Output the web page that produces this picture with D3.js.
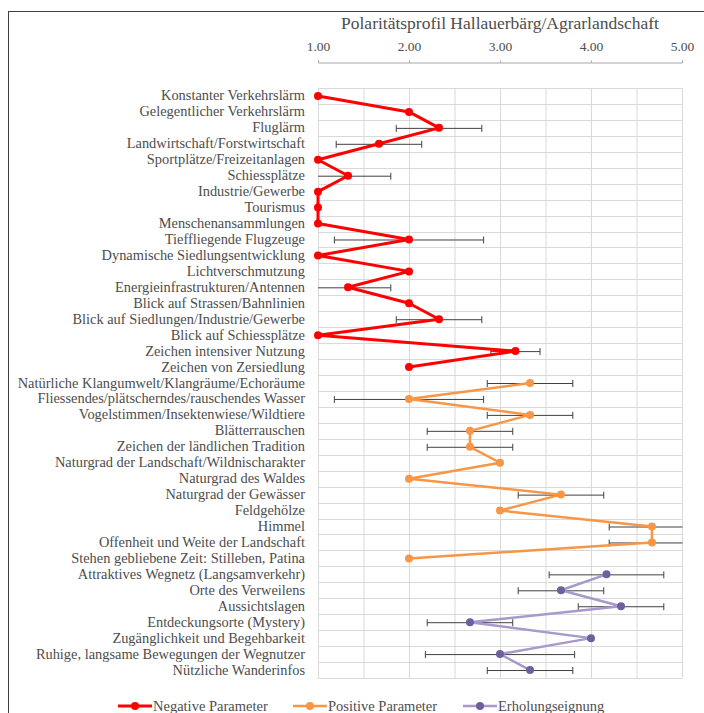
<!DOCTYPE html>
<html>
<head>
<meta charset="utf-8">
<script src="https://d3js.org/d3.v7.min.js"></script>
<style>
  body { margin: 0; background: #fff; }
  text { font-family: "Liberation Serif", serif; fill: #4D4D4D; }
</style>
</head>
<body>
<div id="container"></div>
<script>
// Negative Parameter
const negLabels = ["Konstanter Verkehrslärm", "Gelegentlicher Verkehrslärm", "Fluglärm",
  "Landwirtschaft/Forstwirtschaft", "Sportplätze/Freizeitanlagen", "Schiessplätze",
  "Industrie/Gewerbe", "Tourismus", "Menschenansammlungen", "Tieffliegende Flugzeuge",
  "Dynamische Siedlungsentwicklung", "Lichtverschmutzung", "Energieinfrastrukturen/Antennen",
  "Blick auf Strassen/Bahnlinien", "Blick auf Siedlungen/Industrie/Gewerbe",
  "Blick auf Schiessplätze", "Zeichen intensiver Nutzung", "Zeichen von Zersiedlung"]
const negValues = [1.00, 2.00, 2.33, 1.67, 1.00, 1.33, 1.00, 1.00, 1.00, 2.00, 1.00, 2.00, 1.33, 2.00, 2.33, 1.00, 3.17, 2.00]
const negErrors = [0, 0, 0.47, 0.47, 0, 0.47, 0, 0, 0, 0.82, 0, 0, 0.47, 0, 0.47, 0, 0.27, 0]

// Positive Parameter
const posLabels = ["Natürliche Klangumwelt/Klangräume/Echoräume",
  "Fliessendes/plätscherndes/rauschendes Wasser", "Vogelstimmen/Insektenwiese/Wildtiere",
  "Blätterrauschen", "Zeichen der ländlichen Tradition", "Naturgrad der Landschaft/Wildnischarakter",
  "Naturgrad des Waldes", "Naturgrad der Gewässer", "Feldgehölze", "Himmel",
  "Offenheit und Weite der Landschaft", "Stehen gebliebene Zeit: Stilleben, Patina"]
const posValues = [3.33, 2.00, 3.33, 2.67, 2.67, 3.00, 2.00, 3.67, 3.00, 4.67, 4.67, 2.00]
const posErrors = [0.47, 0.82, 0.47, 0.47, 0.47, 0, 0, 0.47, 0, 0.47, 0.47, 0]

// Erholungseignung
const recLabels = ["Attraktives Wegnetz (Langsamverkehr)", "Orte des Verweilens", "Aussichtslagen",
  "Entdeckungsorte (Mystery)", "Zugänglichkeit und Begehbarkeit",
  "Ruhige, langsame Bewegungen der Wegnutzer", "Nützliche Wanderinfos"]
const recValues = [4.17, 3.67, 4.33, 2.67, 4.00, 3.00, 3.33]
const recErrors = [0.63, 0.47, 0.47, 0.47, 0, 0.82, 0.47]

const xTicks = [1, 2, 3, 4, 5]
const title = "Polaritätsprofil Hallauerbärg/Agrarlandschaft"

const series = [
  {name: "Negative  Parameter", labels: negLabels, values: negValues, errors: negErrors, line: "#FF0000", marker: "#FF0000", width: 3},
  {name: "Positive Parameter", labels: posLabels, values: posValues, errors: posErrors, line: "#F79646", marker: "#F79646", width: 2.5},
  {name: "Erholungseignung", labels: recLabels, values: recValues, errors: recErrors, line: "#A899CC", marker: "#6F5F9E", width: 2.5}
]

const w = 704
const h = 713
const allLabels = negLabels.concat(posLabels, recLabels)

const svg = d3.select("#container").append("svg")
  .attr("width", w)
  .attr("height", h)

// frame
svg.append("rect")
  .attr("x", 8.5).attr("y", 11.5)
  .attr("width", 700).attr("height", 720)
  .attr("fill", "none")
  .attr("stroke", "#404040")

const xScale = d3.scaleLinear().domain([1, 5]).range([318, 682])
const yScale = d3.scaleBand().domain(allLabels).range([88, 678])

// grid
const grid = svg.append("g")
grid.selectAll("line.v")
  .data(d3.range(1, 5.01, 0.5))
  .enter().append("line")
  .attr("x1", d => xScale(d) + 0.5).attr("x2", d => xScale(d) + 0.5)
  .attr("y1", 88).attr("y2", 678)
  .attr("stroke", "#D9D9D9")
grid.selectAll("line.h")
  .data(allLabels.concat([null]))
  .enter().append("line")
  .attr("x1", 318).attr("x2", 682)
  .attr("y1", (d, i) => Math.round(88 + i * yScale.bandwidth()) + 0.5)
  .attr("y2", (d, i) => Math.round(88 + i * yScale.bandwidth()) + 0.5)
  .attr("stroke", "#D9D9D9")

// top axis
const xAxis = d3.axisTop(xScale)
  .tickValues(xTicks)
  .tickSize(2)
  .tickPadding(10)
  .tickFormat(d3.format(".2f"))
const ax = svg.append("g")
  .attr("transform", "translate(0,62.5)")
  .call(xAxis)
ax.select(".domain").attr("stroke", "#A6A6A6")
ax.selectAll(".tick line").attr("stroke", "#A6A6A6")
ax.selectAll(".tick text")
  .style("font-family", "Liberation Serif")
  .style("font-size", "13.5px")
  .attr("fill", "#4D4D4D")

svg.append("text")
  .attr("x", 500).attr("y", 29)
  .attr("text-anchor", "middle")
  .style("font-size", "17.5px")
  .text(title)

// category labels
svg.append("g").selectAll("text")
  .data(allLabels)
  .enter().append("text")
  .attr("x", 305)
  .attr("y", d => yScale(d) + yScale.bandwidth() / 2 + 4.5)
  .attr("text-anchor", "end")
  .style("font-size", "14.4px")
  .text(d => d)

const defs = svg.append("defs")
defs.append("clipPath").attr("id", "plotclip")
  .append("rect").attr("x", 318).attr("y", 80).attr("width", 364.5).attr("height", 610)

const plot = svg.append("g").attr("clip-path", "url(#plotclip)")
const cy = d => yScale(d) + yScale.bandwidth() / 2

series.forEach(s => {
  const pts = s.labels.map((l, i) => ({label: l, value: s.values[i], err: s.errors[i]}))
  const bars = pts.filter(p => p.err > 0)

  // error bars
  const eb = plot.append("g").attr("stroke", "#404040").attr("stroke-width", 1)
  eb.selectAll("line.bar").data(bars).enter().append("line")
    .attr("x1", p => xScale(p.value - p.err)).attr("x2", p => xScale(p.value + p.err))
    .attr("y1", p => cy(p.label) + 0.5).attr("y2", p => cy(p.label) + 0.5)
  eb.selectAll("line.capl").data(bars).enter().append("line")
    .attr("x1", p => xScale(p.value - p.err)).attr("x2", p => xScale(p.value - p.err))
    .attr("y1", p => cy(p.label) - 3).attr("y2", p => cy(p.label) + 4)
  eb.selectAll("line.capr").data(bars).enter().append("line")
    .attr("x1", p => xScale(p.value + p.err)).attr("x2", p => xScale(p.value + p.err))
    .attr("y1", p => cy(p.label) - 3).attr("y2", p => cy(p.label) + 4)

  const line = d3.line().x(p => xScale(p.value)).y(p => cy(p.label))
  svg.append("path")
    .datum(pts)
    .attr("d", line)
    .attr("fill", "none")
    .attr("stroke", s.line)
    .attr("stroke-width", s.width)
    .attr("stroke-linejoin", "round")

  svg.append("g").selectAll("circle")
    .data(pts).enter().append("circle")
    .attr("cx", p => xScale(p.value))
    .attr("cy", p => cy(p.label))
    .attr("r", 4)
    .attr("fill", s.marker)
})

// legend
const legendX = [118, 293, 463]
series.forEach((s, i) => {
  const g = svg.append("g").attr("transform", `translate(${legendX[i]},706)`)
  g.append("line").attr("x1", 0).attr("x2", 34)
    .attr("stroke", s.line).attr("stroke-width", s.width)
  g.append("circle").attr("cx", 17).attr("r", 4).attr("fill", s.marker)
  g.append("text").attr("x", 35).attr("y", 5)
    .style("font-size", "14.5px")
    .text(s.name)
})
</script>
</body>
</html>
